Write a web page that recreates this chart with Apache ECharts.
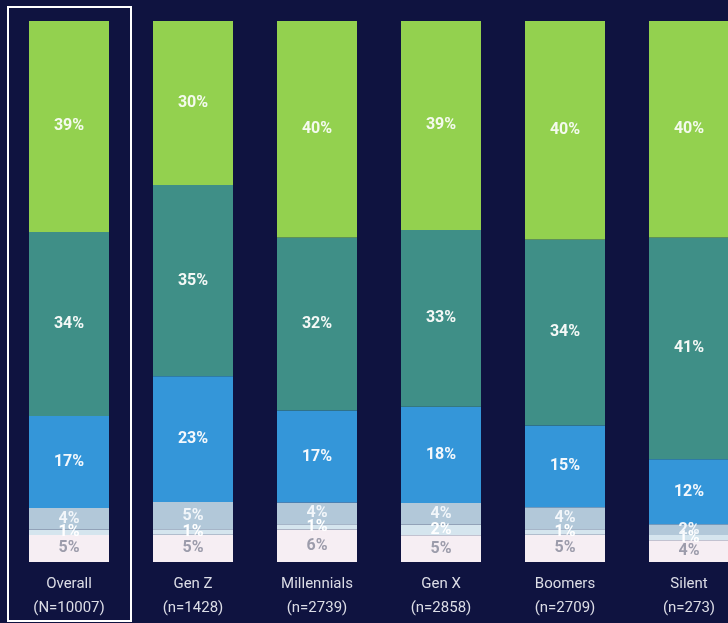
<!DOCTYPE html>
<html>
<head>
<meta charset="utf-8">
<script src="https://cdn.jsdelivr.net/npm/echarts@6/dist/echarts.min.js"></script>
<style>
html,body{margin:0;padding:0;background:#0f1340;}
#c{width:728px;height:623px;}
</style>
</head>
<body>
<div id="c"></div>
<script>
const categories = ['Overall', 'Gen Z', 'Millennials', 'Gen X', 'Boomers', 'Silent'];
const sampleSizes = ['(N=10007)', '(n=1428)', '(n=2739)', '(n=2858)', '(n=2709)', '(n=273)'];
// segments from bottom to top
const seg6 = [5, 5, 6, 5, 5, 4];      // near white
const seg5 = [1, 1, 1, 2, 1, 1];      // pale blue
const seg4 = [4, 5, 4, 4, 4, 2];      // light blue
const seg3 = [17, 23, 17, 18, 15, 12]; // blue
const seg2 = [34, 35, 32, 33, 34, 41]; // teal
const seg1 = [39, 30, 40, 39, 40, 40]; // green

const segments = [seg6, seg5, seg4, seg3, seg2, seg1];
const colors = ['#f6eef3', '#d5e5ee', '#b2c8d9', '#3496d9', '#3f8f87', '#93d14f'];
const labelColors = ['#9c9cab', '#ffffff', '#f2f6fa', '#f4f8fc', '#f4f8f6', '#f4faee'];

const totals = categories.map((_, i) => segments.reduce((s, arr) => s + arr[i], 0));

const series = segments.map((arr, k) => ({
  type: 'bar',
  stack: 'all',
  barWidth: 80,
  data: arr.map((v, i) => ({ value: v / totals[i] * 100, raw: v })),
  itemStyle: { color: colors[k] },
  label: {
    show: true,
    position: 'inside',
    color: labelColors[k],
    fontFamily: 'Roboto',
    fontWeight: 'bold',
    fontSize: 16,
    formatter: p => p.data.raw + '%'
  },
  silent: true
}));

const chart = echarts.init(document.getElementById('c'));
chart.setOption({
  backgroundColor: '#0f1340',
  animation: false,
  grid: { left: 7, top: 21, bottom: 61, width: 744, containLabel: false, outerBoundsMode: 'none' },
  xAxis: {
    type: 'category',
    data: categories,
    axisLine: { show: false },
    axisTick: { show: false },
    axisLabel: {
      color: '#dcdde6',
      fontFamily: 'Roboto',
      fontSize: 15,
      lineHeight: 24,
      margin: 10,
      interval: 0,
      formatter: (v, i) => v + '\n' + sampleSizes[i]
    }
  },
  yAxis: { type: 'value', min: 0, max: 100, show: false },
  series: series
});

const c0 = chart.convertToPixel({ xAxisIndex: 0 }, 0);
const c1 = chart.convertToPixel({ xAxisIndex: 0 }, 1);
const half = (c1 - c0) / 2;
chart.setOption({
  graphic: [{
    type: 'rect',
    shape: { x: c0 - half + 1, y: 7, width: half * 2 - 1, height: 614 },
    style: { fill: 'none', stroke: '#ffffff', lineWidth: 2 },
    silent: true
  }]
});
</script>
</body>
</html>
